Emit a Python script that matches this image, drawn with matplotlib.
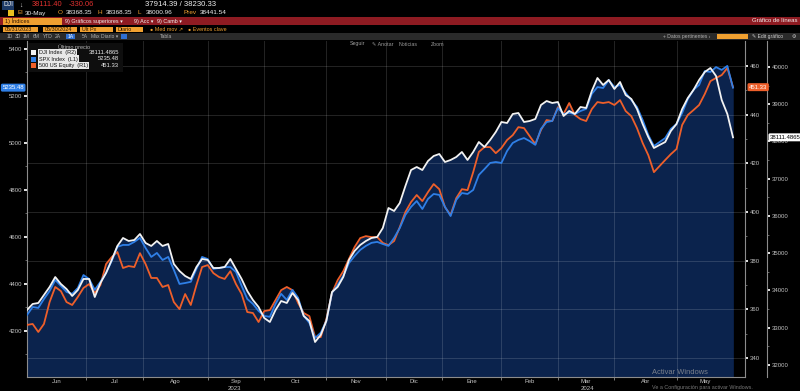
import matplotlib
matplotlib.use('Agg')
import matplotlib.pyplot as plt
from matplotlib.patches import Rectangle
from matplotlib.transforms import blended_transform_factory as blend
import numpy as np
import pandas as pd

plt.rcParams['font.family'] = ['Liberation Sans', 'DejaVu Sans']

# NYSE sessions 01-Jun-2023 .. 30-May-2024, values read every second session
holidays = ['2023-06-19', '2023-07-04', '2023-09-04', '2023-11-23', '2023-12-25',
            '2024-01-01', '2024-01-15', '2024-02-19', '2024-03-29', '2024-05-27']
sessions = pd.bdate_range('2023-06-01', '2024-05-30', freq='C', holidays=holidays)

# DJI Index (R2)
dji = [33475, 33637, 33663, 33878, 34093, 34361, 34174, 34039, 33851, 34012,
       34308, 34308, 33824, 34200, 34469, 34818, 35194, 35409, 35328, 35355,
       35516, 35274, 35194, 35328, 35194, 35248, 34711, 34523, 34388, 34308,
       34630, 34845, 34818, 34603, 34603, 34630, 34845, 34576, 34308, 33986,
       33744, 33556, 33261, 33153, 33475, 33717, 33663, 33932, 33744, 33314,
       33180, 32616, 32804, 33180, 33959, 34093, 34361, 34818, 35060, 35221,
       35328, 35409, 35435, 35677, 36214, 36134, 36348, 36805, 37234, 37315,
       37234, 37476, 37610, 37664, 37449, 37503, 37583, 37718, 37503, 37718,
       37986, 37852, 38040, 38255, 38523, 38496, 38738, 38765, 38523, 38550,
       38604, 38980, 39087, 39033, 39060, 38684, 38819, 38738, 38926, 38899,
       39356, 39705, 39517, 39651, 39409, 39597, 39248, 39141, 38872, 38470,
       38120, 37825, 37906, 37986, 38282, 38470, 38872, 39168, 39382, 39651,
       39866, 39973, 39758, 39114, 38738, 38111.4865]

# SPX Index (L1)
spx = [4268, 4302, 4298, 4336, 4370, 4417, 4392, 4366, 4358, 4383,
       4438, 4421, 4375, 4409, 4447, 4498, 4558, 4566, 4566, 4579,
       4596, 4553, 4515, 4532, 4502, 4515, 4460, 4400, 4404, 4409,
       4464, 4515, 4506, 4464, 4468, 4472, 4472, 4451, 4392, 4336,
       4315, 4285, 4264, 4260, 4315, 4358, 4332, 4375, 4341, 4264,
       4234, 4170, 4192, 4243, 4362, 4396, 4434, 4489, 4519, 4545,
       4562, 4575, 4579, 4570, 4562, 4596, 4638, 4694, 4728, 4753,
       4719, 4762, 4783, 4779, 4728, 4689, 4758, 4787, 4783, 4800,
       4864, 4889, 4915, 4919, 4915, 4966, 5000, 5013, 5021, 5008,
       4992, 5060, 5089, 5094, 5149, 5123, 5128, 5123, 5136, 5145,
       5209, 5238, 5234, 5268, 5238, 5247, 5213, 5183, 5153, 5098,
       5034, 4987, 5004, 5021, 5060, 5081, 5128, 5187, 5226, 5247,
       5306, 5302, 5323, 5311, 5328, 5235.48]

# 500 US Equity (R1)
eq500 = [353.6, 354.0, 350.7, 354.0, 363.0, 369.2, 367.5, 363.0, 361.8, 365.1,
         368.8, 370.4, 366.7, 370.0, 378.6, 381.5, 383.6, 377.0, 377.8, 377.4,
         383.1, 378.6, 372.9, 372.9, 369.2, 370.0, 363.0, 360.1, 366.3, 361.8,
         370.0, 377.4, 378.2, 374.9, 373.3, 372.5, 375.7, 370.4, 366.3, 358.9,
         358.5, 354.8, 359.3, 359.7, 363.8, 367.9, 369.2, 367.9, 362.6, 358.5,
         357.2, 348.6, 348.6, 356.0, 366.7, 372.0, 375.7, 380.7, 385.6, 389.3,
         390.1, 389.7, 389.7, 387.3, 386.4, 388.1, 393.8, 400.0, 404.1, 407.0,
         404.5, 408.2, 411.5, 409.4, 402.0, 398.8, 405.7, 409.4, 409.0, 416.4,
         424.7, 426.7, 426.7, 424.2, 426.3, 429.6, 431.6, 434.9, 434.5, 431.2,
         427.9, 433.7, 437.8, 437.4, 443.1, 440.3, 444.8, 439.9, 438.2, 437.4,
         442.3, 445.2, 444.8, 445.2, 444.0, 446.0, 441.5, 439.4, 434.5, 428.4,
         423.4, 416.4, 418.9, 421.4, 423.8, 425.9, 435.8, 439.9, 441.9, 444.0,
         448.5, 453.8, 455.1, 456.3, 459.2, 451.33]

left_ticks = [4200, 4400, 4600, 4800, 5000, 5200, 5400]
r1_ticks = [340, 360, 380, 400, 420, 440, 460]
r2_ticks = [32000, 33000, 34000, 35000, 36000, 37000, 38000, 39000, 40000]
month_names = ['Jun', 'Jul', 'Ago', 'Sep', 'Oct', 'Nov', 'Dic', 'Ene', 'Feb', 'Mar', 'Abr', 'May']
years = ['2023', '2024']

W, H = 800, 391
def fx(x): return x / W
def fy(y): return 1 - y / H

fig = plt.figure(figsize=(W / 100, H / 100), dpi=100, facecolor='black')

ax = fig.add_axes([fx(27), fy(377), 718 / W, 336 / H])
ax.set_facecolor('black')
r1 = ax.twinx()
r2 = ax.twinx()

day = np.arange(len(sessions))
xs = day[::2]

navy = '#0b234d'
orange = '#ee5f2a'
blue = '#2f7fe6'
white = '#f2f2f2'

# filled area under every series (union), then the lines on top
for vals, other, lo in [(spx, ax, 4004), (eq500, r1, 332.2), (dji, r2, 31676)]:
    ax.fill_between(xs, vals, lo, transform=other.transData, color=navy, lw=0, zorder=1)

grid_kw = dict(color='white', alpha=0.14, lw=0.7, zorder=2)
month_start = [i for i in range(1, len(sessions)) if sessions[i].month != sessions[i - 1].month]
for m in month_start:
    ax.axvline(m, **grid_kw)
hgrid = blend(ax.transAxes, r1.transData)
for v in r1_ticks:
    ax.plot([0, 1], [v, v], transform=hgrid, **grid_kw)

ax.plot(xs, eq500, color=orange, lw=1.3, transform=r1.transData, zorder=3)
ax.plot(xs, spx, color=blue, lw=1.3, zorder=4)
ax.plot(xs, dji, color=white, lw=1.3, transform=r2.transData, zorder=5)

ax.set_xlim(0, 254.25)
ax.set_ylim(4004, 5434)
r1.set_ylim(332.2, 470.3)
r2.set_ylim(31676, 40698)

# spines
spine_c = '#8c8c8c'
for a in (ax, r1, r2):
    for s in a.spines.values():
        s.set_visible(False)
for s in (ax.spines['left'], ax.spines['bottom'], r1.spines['right'], r2.spines['right']):
    s.set_visible(True)
    s.set_color(spine_c)
    s.set_linewidth(0.8)
r2.spines['right'].set_position(('axes', 740 / 718))

lab_c = '#c4c4c4'
fs = 4.3
ax.set_yticks(left_ticks)
ax.set_yticks(np.arange(4100, 5401, 100), minor=True)
ax.tick_params(axis='y', which='major', direction='out', length=2, width=1.4,
               color='#e6e6e6', labelcolor=lab_c, labelsize=fs, pad=1.5)
ax.tick_params(axis='y', which='minor', direction='out', length=1.5, width=0.6, color='#777777')

r1.set_yticks(r1_ticks)
r1.set_yticks(np.arange(350, 461, 20), minor=True)
r1.tick_params(axis='y', which='major', direction='out', length=2, width=1.4,
               color='#e6e6e6', labelcolor=lab_c, labelsize=fs, pad=1.5)
r1.tick_params(axis='y', which='minor', direction='out', length=1.5, width=0.6, color='#777777')

r2.set_yticks(r2_ticks)
r2.set_yticklabels([str(v) for v in r2_ticks])
r2.set_yticks(np.arange(32500, 40001, 1000), minor=True)
r2.tick_params(axis='y', which='major', direction='out', length=2, width=1.4,
               color='#e6e6e6', labelcolor=lab_c, labelsize=fs, pad=1.5)
r2.tick_params(axis='y', which='minor', direction='out', length=1.5, width=0.6, color='#777777')

bounds = [0] + month_start + [len(sessions) - 1]
mids = [(bounds[i] + bounds[i + 1]) / 2 for i in range(len(month_names))]
ax.set_xticks(month_start)
ax.set_xticklabels([])
ax.set_xticks(mids, month_names, minor=True)
ax.tick_params(axis='x', which='major', length=2, width=0.6, color=spine_c)
ax.tick_params(axis='x', which='minor', length=0, pad=1.5, labelsize=fs, labelcolor=lab_c)
jan = month_start[6]
for lbl, mid in zip(years, [jan / 2, (jan + len(sessions) - 1) / 2]):
    ax.text(mid, -11 / 336, lbl, transform=blend(ax.transData, ax.transAxes),
            ha='center', va='center', fontsize=fs, color=lab_c)

# last-value boxes on the scales
r2.text(-3 / 718, spx[-1], f'{spx[-1]:.2f}', transform=blend(ax.transAxes, ax.transData),
        ha='right', va='center', fontsize=fs, color='white',
        bbox=dict(boxstyle='round,pad=0.25', fc=blue, ec='none'))
r2.text(722 / 718, eq500[-1], f'{eq500[-1]:.2f}', transform=blend(ax.transAxes, r1.transData),
        ha='left', va='center', fontsize=fs, color='white',
        bbox=dict(boxstyle='round,pad=0.25', fc=orange, ec='none'))
r2.text(743 / 718, dji[-1], f'{dji[-1]:.4f}', transform=blend(ax.transAxes, r2.transData),
        ha='left', va='center', fontsize=fs, color='black',
        bbox=dict(boxstyle='round,pad=0.25', fc='white', ec='none'))


# ---- terminal header ----
def box(x0, y0, x1, y1, color, **kw):
    fig.add_artist(Rectangle((fx(x0), fy(y1)), (x1 - x0) / W, (y1 - y0) / H,
                             transform=fig.transFigure, fc=color, ec='none', **kw))

def t(x, y, s, color='white', size=4.6, **kw):
    fig.text(fx(x), fy(y), s, color=color, fontsize=size, va='center', **kw)

amber = '#f0a030'
t(3, 5, 'DJI', '#e8e8e8', 4.8, bbox=dict(boxstyle='square,pad=0.15', fc='#1d3a66', ec='none'))
t(19, 5, '↓', '#dddddd', 4.8)
t(32, 5, '38111.40', '#e0312f', 5.4)
t(69, 5, '-330.06', '#e0312f', 5.4)
t(145, 5, '37914.39 / 38230.33', '#eeeeee', 5.6)

box(8, 10, 14, 16, '#e8c020')
t(17, 13, 'El', amber, 4.6)
t(25, 13, '30-May', '#eeeeee', 4.6)
for x, k, v in [(58, 'O', '38368.35'), (98, 'H', '38368.35'), (138, 'L', '38000.96')]:
    t(x, 13, k, amber, 4.6)
    t(x + 8, 13, v, '#eeeeee', 4.6)
t(183, 13, 'Prev', amber, 4.6)
t(200, 13, '38441.54', '#eeeeee', 4.6)

box(0, 17, 800, 25, '#8e1b22')
box(3, 17.5, 62, 24.5, amber)
t(5, 21, '1) Índices', '#3a1a00', 4.1)
t(65, 21, '9) Gráficos superiores ▾', '#f2f2f2', 3.9)
t(134, 21, '9) Acc ▾', '#f2f2f2', 3.9)
t(157, 21, '9) Camb ▾', '#f2f2f2', 3.9)
t(797, 21, 'Gráfico de líneas', '#f2f2f2', 4.3, ha='right')

for x0, x1, s in [(3, 38, '05/31/2023'), (43, 77, '05/30/2024'), (80, 113, 'Últ Px'), (116, 143, 'Diario')]:
    box(x0, 26.5, x1, 32, amber)
    t(x0 + 2, 29.3, s, '#2a1600', 3.9)
t(150, 29.3, '● Med mov ↗', amber, 3.9)
t(188, 29.3, '● Eventos clave', amber, 3.9)

box(0, 33, 800, 39.5, '#2a2a2a')
for x, s in [(7, '1D'), (15, '3D'), (23, '1M'), (33, '6M'), (43, 'YTD'), (55, '2A'),
             (82, '5A'), (91, 'Máx'), (101, 'Diario ▾')]:
    t(x, 36.3, s, '#b0b0b0', 3.6)
box(66, 33.8, 75, 38.8, '#2f6fd0')
t(67.5, 36.3, '1A', 'white', 3.6)
box(121, 33.8, 127, 38.8, '#2f6fd0')
t(160, 36.3, 'Tabla', '#b0b0b0', 3.6)
t(663, 36.3, '+ Datos pertinentes ›', '#b0b0b0', 3.6)
box(717, 33.8, 748, 38.8, amber)
t(752, 36.3, '✎ Edit gráfico', '#d0d0d0', 3.6)
t(792, 36.3, '⚙', '#d0d0d0', 3.6)

for x, s in [(350, 'Seguir'), (372, '✎ Anotar'), (399, 'Noticias'), (431, 'Zoom')]:
    t(x, 44, s, '#9a9a9a', 3.8)

# legend panel
box(28, 43, 123, 72, '#0e0e0e')
t(58, 47, 'Último precio', '#b8b8b8', 4.0)
for yy, c, name, val in [(52.5, white, 'DJI Index  (R2)', f'{dji[-1]:.4f}'),
                         (59, blue, 'SPX Index  (L1)', f'{spx[-1]:.2f}'),
                         (65.5, orange, '500 US Equity  (R1)', f'{eq500[-1]:.2f}')]:
    box(31, yy - 2.5, 36, yy + 2.5, c)
    t(39, yy, name, '#111111', 4.0, bbox=dict(boxstyle='square,pad=0.2', fc='#e8e8e8', ec='none'))
    t(119, yy, val, '#eeeeee', 4.2, ha='right')

# windows watermark
t(652, 372.5, 'Activar Windows', '#a0a0a0', 5.4, alpha=0.75)
t(652, 387, 'Ve a Configuración para activar Windows.', '#a0a0a0', 3.9, alpha=0.75)

fig.savefig('out.png', dpi=100, facecolor='black')
